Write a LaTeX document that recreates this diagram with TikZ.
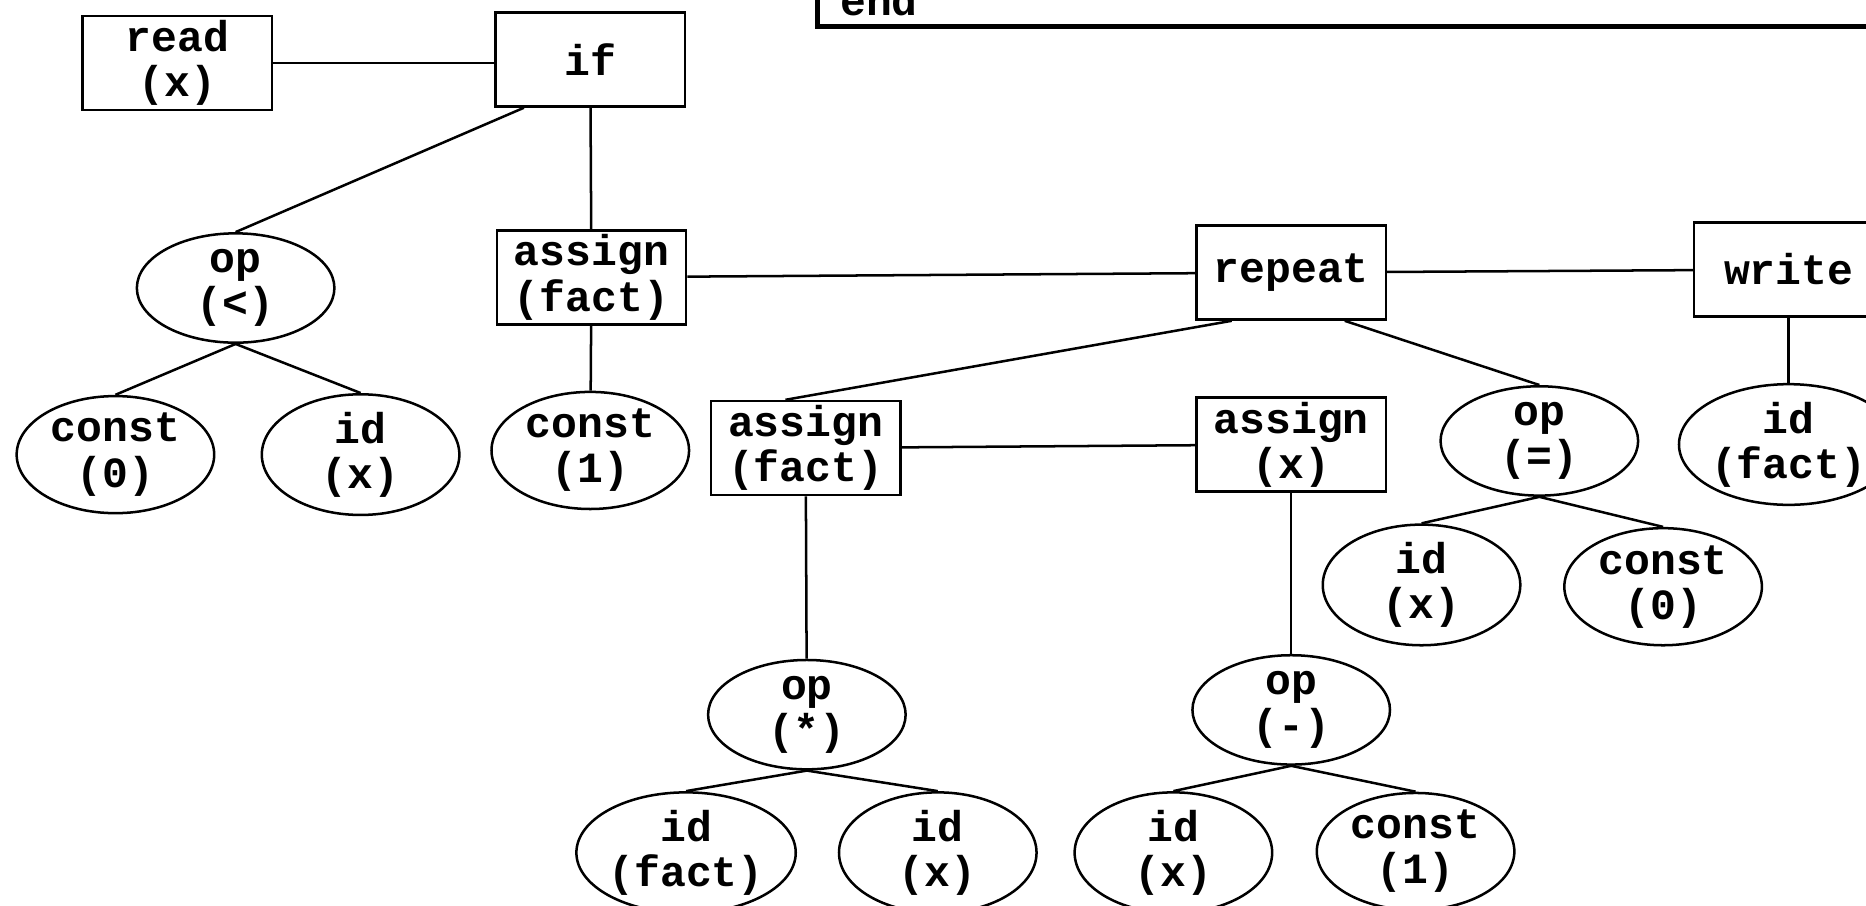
\documentclass[tikz,border=0pt]{standalone}
\usepackage{fontspec}
\setmonofont{Liberation Mono}
\usepackage{tikz}
\usetikzlibrary{shapes.geometric}

\begin{document}
\begin{tikzpicture}[line width=0.6pt,
  stmt/.style={rectangle, draw, minimum width=1.59cm, minimum height=0.79cm, inner sep=0pt, align=center},
  expr/.style={ellipse, draw, minimum width=1.66cm, minimum height=0.9cm, inner sep=0pt, align=center},
  font=\ttfamily\bfseries\fontsize{10.3}{10.8}\selectfont]

  \useasboundingbox (0,0) rectangle (15.68,-7.61);

  % Code listing (cut off)
  \draw[line width=1.1pt] (6.87,0.6) |- (16.5,-0.225);
  \node[anchor=base west, inner sep=0pt] (endkw) at (7.05,-0.13) {end};

  % Nodes
  \node[stmt] (read) at (1.49,-0.53) {read\\(x)};
  \node[stmt] (if) at (4.96,-0.50) {if};
  \node[expr] (opLt) at (1.98,-2.42) {op\\(<)};
  \node[expr] (constZero) at (0.97,-3.82) {const\\(0)};
  \node[expr] (idX) at (3.03,-3.82) {id\\(x)};
  \node[stmt] (assignFact) at (4.97,-2.33) {assign\\(fact)};
  \node[expr] (constOne) at (4.96,-3.785) {const\\(1)};

  \node[stmt] (repeat) at (10.85,-2.29) {repeat};
  \node[stmt] (write) at (15.03,-2.265) {write};
  \node[expr] (idFactOut) at (15.03,-3.735) {id\\(fact)};

  \node[stmt] (assignProd) at (6.77,-3.765) {assign\\(fact)};
  \node[stmt] (assignX) at (10.85,-3.735) {assign\\(x)};
  \node[expr] (opEq) at (12.935,-3.705) {op\\(=)};
  \node[expr] (idXTest) at (11.945,-4.915) {id\\(x)};
  \node[expr] (constZeroTest) at (13.975,-4.93) {const\\(0)};

  \node[expr] (opMul) at (6.78,-6.005) {op\\(*)};
  \node[expr] (idFact) at (5.765,-7.165) {id\\(fact)};
  \node[expr] (idXMul) at (7.88,-7.165) {id\\(x)};
  \node[expr] (opSub) at (10.85,-5.965) {op\\(-)};
  \node[expr] (idXSub) at (9.86,-7.165) {id\\(x)};
  \node[expr] (constOneSub) at (11.895,-7.155) {const\\(1)};

  % Edges
  \draw (read.east) -- (read.east -| if.west);
  \draw (if.216) -- (opLt.north);
  \draw (if) -- (assignFact);
  \draw (opLt.south) -- (constZero.north);
  \draw (opLt.south) -- (idX.north);
  \draw (assignFact) -- (constOne);
  \draw (assignFact) -- (repeat);
  \draw (repeat) -- (write);
  \draw (write) -- (idFactOut);

  \draw ([xshift=-0.5cm]repeat.south) -- ([xshift=-0.17cm]assignProd.north);
  \draw ([xshift=0.45cm]repeat.south) -- (opEq.north);
  \draw (assignProd) -- (assignX);
  \draw (opEq.south) -- (idXTest.north);
  \draw (opEq.south) -- (constZeroTest.north);

  \draw (assignProd) -- (opMul);
  \draw (opMul.south) -- (idFact.north);
  \draw (opMul.south) -- (idXMul.north);
  \draw (assignX) -- (opSub);
  \draw (opSub.south) -- (idXSub.north);
  \draw (opSub.south) -- (constOneSub.north);

\end{tikzpicture}
\end{document}
